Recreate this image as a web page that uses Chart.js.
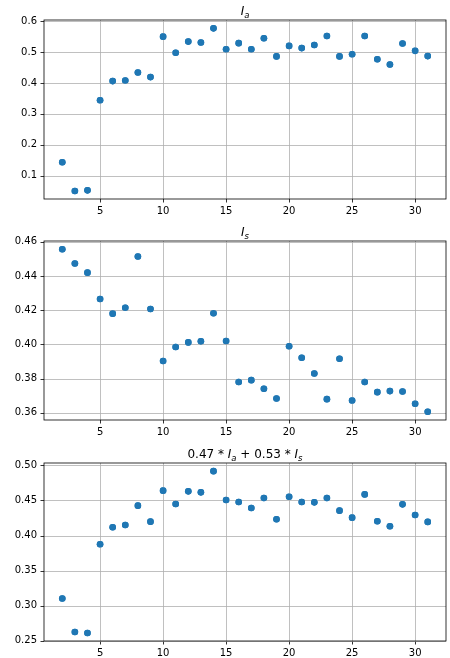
<!DOCTYPE html>
<html>
<head>
<meta charset="utf-8">
<script src="https://cdn.jsdelivr.net/npm/chart.js@4.4.1/dist/chart.umd.min.js"></script>
<style>
    body { margin: 0; }
    canvas { display: block; }
</style>
</head>
<body>
<canvas id="chartIa" width="450" height="220"></canvas>
<canvas id="chartIs" width="450" height="220"></canvas>
<canvas id="chartCombo" width="450" height="218"></canvas>
<script>
const steps = [2, 3, 4, 5, 6, 7, 8, 9, 10, 11, 12, 13, 14, 15, 16, 17, 18, 19, 20, 21, 22, 23, 24, 25, 26, 27, 28, 29, 30, 31];

const iaValues = [0.143, 0.050, 0.052, 0.344, 0.406, 0.408, 0.434, 0.419, 0.550, 0.498,
    0.534, 0.531, 0.577, 0.509, 0.529, 0.509, 0.545, 0.486, 0.520, 0.513,
    0.523, 0.552, 0.486, 0.493, 0.552, 0.477, 0.460, 0.528, 0.504, 0.487];

const isValues = [0.4557, 0.4473, 0.4420, 0.4266, 0.4180, 0.4215, 0.4514, 0.4207, 0.3903, 0.3985,
    0.4012, 0.4018, 0.4182, 0.4020, 0.3780, 0.3791, 0.3741, 0.3684, 0.3989, 0.3922,
    0.3830, 0.3680, 0.3916, 0.3672, 0.3780, 0.3721, 0.3727, 0.3725, 0.3653, 0.3606];

const comboValues = [0.310, 0.2623, 0.2609, 0.3876, 0.4118, 0.4151, 0.4426, 0.4198, 0.4640, 0.4450,
    0.4630, 0.4616, 0.4919, 0.4507, 0.4478, 0.4393, 0.4535, 0.4232, 0.4554, 0.4478,
    0.4473, 0.4535, 0.4355, 0.4255, 0.4587, 0.4203, 0.4132, 0.4445, 0.4293, 0.4194];

const xTicks = [5, 10, 15, 20, 25, 30];
const iaTicks = [0.1, 0.2, 0.3, 0.4, 0.5, 0.6];
const isTicks = [0.36, 0.38, 0.40, 0.42, 0.44, 0.46];
const comboTicks = [0.25, 0.30, 0.35, 0.40, 0.45, 0.50];

// title pieces: [text, italic, subscript]
const iaTitle = [['I', true, false], ['a', true, true]];
const isTitle = [['I', true, false], ['s', true, true]];
const comboTitle = [['0.47 * ', false, false], ['I', true, false], ['a', true, true],
    [' + 0.53 * ', false, false], ['I', true, false], ['s', true, true]];

const FONT = '"DejaVu Sans", sans-serif';

function titlePlugin(parts) {
    return {
        id: 'mathTitle',
        afterDraw(chart) {
            const ctx = chart.ctx;
            const area = chart.chartArea;
            const fontOf = p => (p[1] ? 'italic ' : '') + (p[2] ? '8.5px ' : '12px ') + FONT;
            ctx.save();
            ctx.fillStyle = '#000';
            ctx.textBaseline = 'alphabetic';
            const widths = parts.map(p => { ctx.font = fontOf(p); return ctx.measureText(p[0]).width; });
            const total = widths.reduce((a, b) => a + b, 0);
            let x = (area.left + area.right) / 2 - total / 2;
            const base = area.top - 5;
            parts.forEach((p, i) => {
                ctx.font = fontOf(p);
                ctx.fillText(p[0], x, base + (p[2] ? 2.5 : 0));
                x += widths[i];
            });
            ctx.restore();
        }
    };
}

// grid, tick marks and frame, matplotlib style, placed with the chart's scales.
// the points get drawn again on top so the grid stays behind them
const framePlugin = {
    id: 'frame',
    afterDatasetsDraw(chart) {
        const {ctx, chartArea: a} = chart;
        const xs = chart.scales.x;
        const ys = chart.scales.y;
        const line = (x1, y1, x2, y2) => {
            ctx.beginPath();
            ctx.moveTo(x1, y1);
            ctx.lineTo(x2, y2);
            ctx.stroke();
        };
        ctx.save();
        ctx.lineWidth = 0.8;
        xs.ticks.forEach(t => {
            const px = Math.round(xs.getPixelForValue(t.value)) + 0.5;
            ctx.strokeStyle = '#b0b0b0';
            line(px, a.top, px, a.bottom);
            ctx.strokeStyle = '#000';
            line(px, a.bottom, px, a.bottom + 3.5);
        });
        ys.ticks.forEach(t => {
            const py = Math.round(ys.getPixelForValue(t.value)) + 0.5;
            ctx.strokeStyle = '#b0b0b0';
            line(a.left, py, a.right, py);
            ctx.strokeStyle = '#000';
            line(a.left - 3.5, py, a.left, py);
        });
        ctx.restore();

        chart.getDatasetMeta(0).controller.draw();

        ctx.save();
        ctx.strokeStyle = '#000';
        ctx.lineWidth = 0.8;
        ctx.strokeRect(a.left, a.top, a.right - a.left, a.bottom - a.top);
        ctx.restore();
    }
};

function makeChart(id, values, yTicks, decimals, yMin, yMax, padTop, axisHeight, title) {
    return new Chart(document.getElementById(id), {
        type: 'scatter',
        data: {
            datasets: [{
                data: steps.map((s, i) => ({x: s, y: values[i]})),
                backgroundColor: '#1f77b4',
                borderWidth: 0,
                pointRadius: 3.3
            }]
        },
        options: {
            responsive: false,
            animation: false,
            layout: {padding: {top: padTop, right: 2, left: 0, bottom: 0}},
            plugins: {legend: {display: false}, tooltip: {enabled: false}},
            scales: {
                x: {
                    type: 'linear',
                    min: 0.55,
                    max: 32.45,
                    grid: {display: false, drawTicks: false},
                    border: {display: false},
                    ticks: {autoSkip: false, maxRotation: 0, padding: 6, color: '#000', font: {family: FONT, size: 10}},
                    afterBuildTicks: s => { s.ticks = xTicks.map(v => ({value: v})); },
                    afterFit: s => { s.height = axisHeight; }
                },
                y: {
                    min: yMin,
                    max: yMax,
                    grid: {display: false, drawTicks: false},
                    border: {display: false},
                    ticks: {autoSkip: false, padding: 7, color: '#000', font: {family: FONT, size: 10}},
                    afterBuildTicks: s => { s.ticks = yTicks.map(v => ({value: v})); },
                    afterTickToLabelConversion: s => { s.ticks.forEach(t => { t.label = t.value.toFixed(decimals); }); },
                    afterFit: s => { s.width = 44; }
                }
            }
        },
        plugins: [framePlugin, titlePlugin(title)]
    });
}

makeChart('chartIa', iaValues, iaTicks, 1, 0.024, 0.604, 20, 21, iaTitle);
makeChart('chartIs', isValues, isTicks, 2, 0.3558, 0.4605, 21, 20, isTitle);
makeChart('chartCombo', comboValues, comboTicks, 2, 0.2494, 0.5035, 23, 17, comboTitle);
</script>
</body>
</html>
